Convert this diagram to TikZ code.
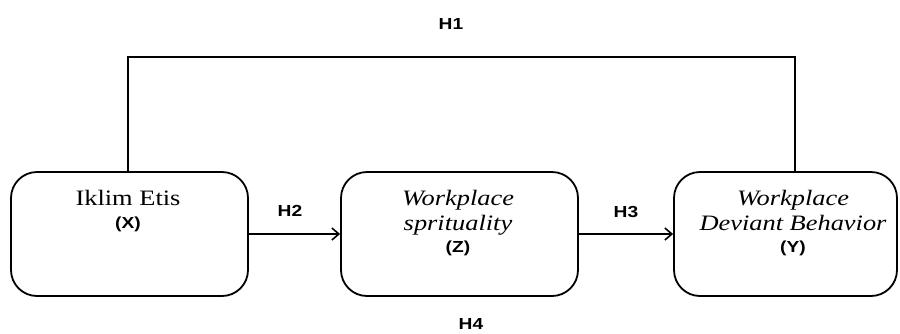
\documentclass[tikz,border=0pt]{standalone}
\usepackage{fontspec}
\setmainfont{Liberation Serif}
\newfontfamily\strfont[FakeStretch=1.2]{Liberation Serif}
\newfontfamily\lblfont[FakeStretch=1.2]{Liberation Sans}
\usetikzlibrary{arrows.meta}
\begin{document}
\begin{tikzpicture}[x=1pt,y=-1pt,
  box/.style={draw,line width=1.8pt,rounded corners=26pt,minimum width=237pt,minimum height=124pt,inner sep=0pt},
  conn/.style={line width=2pt},
  arr/.style={conn,-{Straight Barb[length=7pt,width=12pt,line width=1.6pt]}},
  txt/.style={anchor=base,inner sep=0pt,font=\strfont\fontsize{22}{24}\selectfont},
  itxt/.style={txt,font=\strfont\itshape\fontsize{22}{24}\selectfont},
  var/.style={anchor=base,inner sep=0pt,font=\lblfont\bfseries\fontsize{16}{18}\selectfont},
  hyp/.style={anchor=base,inner sep=0pt,font=\lblfont\bfseries\fontsize{16}{18}\selectfont}]
\useasboundingbox (0,0) rectangle (900,333);
\node[box] (X) at (129.5,234) {};
\node[box] (Z) at (459.5,234) {};
\node[box,minimum width=223pt] (Y) at (785.5,234) {};
\node[txt] (xt) at (128,205.5) {Iklim Etis};
\node[var] (xv) at (128,228) {(X)};
\node[itxt] (zt1) at (458,205) {Workplace};
\node[itxt] (zt2) at (458,230.5) {sprituality};
\node[var] (zv) at (458,252) {(Z)};
\node[itxt] (yt1) at (793,205.5) {Workplace};
\node[itxt] (yt2) at (793,230.5) {Deviant Behavior};
\node[var] (yv) at (793,252) {(Y)};
\coordinate (h1a) at (128,57);
\coordinate (h1b) at (795,57);
\draw[conn] (h1a |- X.north) -- (h1a) -- (h1b) -- (h1b |- Y.north);
\draw[arr] (X) -- (Z);
\draw[arr] (Z) -- (Y);
\node[hyp] (H1) at (451,29) {H1};
\node[hyp] (H2) at (290,216) {H2};
\node[hyp] (H3) at (626,217) {H3};
\node[hyp] (H4) at (471,329.5) {H4};
\end{tikzpicture}
\end{document}
